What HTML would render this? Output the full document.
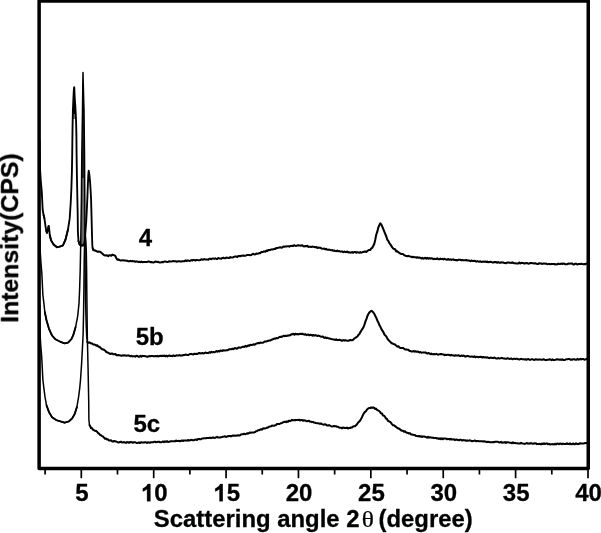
<!DOCTYPE html>
<html><head><meta charset="utf-8"><title>XRD</title>
<style>
html,body{margin:0;padding:0;background:#fff;}
svg{display:block}
text{font-family:"Liberation Sans",sans-serif;font-weight:bold;font-size:24px;fill:#000;stroke:#000;stroke-width:0.3px;stroke-linejoin:round}
</style></head>
<body>
<svg width="601" height="533" viewBox="0 0 601 533">
<rect x="0" y="0" width="601" height="533" fill="#fff"/>
<!-- frame -->
<rect x="39.12" y="0.95" width="549.13" height="467.65" fill="none" stroke="#000" stroke-width="3.5" stroke-linejoin="round"/>
<line x1="45.11" y1="469.5" x2="45.11" y2="474.5" stroke="#000" stroke-width="1.7"/>
<line x1="81.30" y1="469.5" x2="81.30" y2="478.2" stroke="#000" stroke-width="1.7"/>
<line x1="117.49" y1="469.5" x2="117.49" y2="474.5" stroke="#000" stroke-width="1.7"/>
<line x1="153.69" y1="469.5" x2="153.69" y2="478.2" stroke="#000" stroke-width="1.7"/>
<line x1="189.88" y1="469.5" x2="189.88" y2="474.5" stroke="#000" stroke-width="1.7"/>
<line x1="226.07" y1="469.5" x2="226.07" y2="478.2" stroke="#000" stroke-width="1.7"/>
<line x1="262.26" y1="469.5" x2="262.26" y2="474.5" stroke="#000" stroke-width="1.7"/>
<line x1="298.46" y1="469.5" x2="298.46" y2="478.2" stroke="#000" stroke-width="1.7"/>
<line x1="334.65" y1="469.5" x2="334.65" y2="474.5" stroke="#000" stroke-width="1.7"/>
<line x1="370.84" y1="469.5" x2="370.84" y2="478.2" stroke="#000" stroke-width="1.7"/>
<line x1="407.04" y1="469.5" x2="407.04" y2="474.5" stroke="#000" stroke-width="1.7"/>
<line x1="443.23" y1="469.5" x2="443.23" y2="478.2" stroke="#000" stroke-width="1.7"/>
<line x1="479.42" y1="469.5" x2="479.42" y2="474.5" stroke="#000" stroke-width="1.7"/>
<line x1="515.61" y1="469.5" x2="515.61" y2="478.2" stroke="#000" stroke-width="1.7"/>
<line x1="551.81" y1="469.5" x2="551.81" y2="474.5" stroke="#000" stroke-width="1.7"/>
<line x1="588.00" y1="469.5" x2="588.00" y2="478.2" stroke="#000" stroke-width="1.7"/>

<g opacity="0.999">
<text x="81.9" y="501.3" text-anchor="middle">5</text>
<path d="M806 0L525 0L525 1059Q371 915 162 846L162 1101Q272 1137 401 1237.5Q530 1338 578 1472L806 1472Z" transform="translate(140.94,501.3) scale(0.011719,-0.011719)" fill="#000" stroke="#000" stroke-width="25.6" stroke-linejoin="round"/>
<text x="154.29" y="501.3">0</text>
<path d="M806 0L525 0L525 1059Q371 915 162 846L162 1101Q272 1137 401 1237.5Q530 1338 578 1472L806 1472Z" transform="translate(213.32,501.3) scale(0.011719,-0.011719)" fill="#000" stroke="#000" stroke-width="25.6" stroke-linejoin="round"/>
<text x="226.67" y="501.3">5</text>
<text x="299.1" y="501.3" text-anchor="middle">20</text>
<text x="371.4" y="501.3" text-anchor="middle">25</text>
<text x="443.8" y="501.3" text-anchor="middle">30</text>
<text x="516.2" y="501.3" text-anchor="middle">35</text>
<text x="588.6" y="501.3" text-anchor="middle">40</text>

<text x="138.7" y="246.4">4</text>
<text x="135.7" y="345.2">5b</text>
<text x="133.4" y="432.2">5c</text>
<text transform="translate(153.8,527.2) scale(1,0.97)" style="font-size:23.9px">Scattering angle 2</text>
<text transform="translate(361.8,527.3) scale(1.15,1)" style="font-family:'Liberation Serif',serif;font-size:22.1px;font-weight:normal;stroke-width:0.25px">θ</text>
<text transform="translate(378.5,527.2) scale(1,0.97)" style="font-size:23.9px">(degree)</text>
<text transform="translate(18.1,322.8) rotate(-90)" style="font-size:24.8px">Intensity(CPS)</text>
</g>
<polygon points="82.6,105 81.9,155 81.7,178 84.7,178 84.5,155 84.0,105" fill="#222"/>
<polygon points="81.7,178 81.5,200 81.0,246 84.9,246 84.8,200 84.7,178" fill="#6a6a6a"/>
<polygon points="74.15,87.5 73.4,98.8 72.9,110 72.8,114 75.75,114 75.3,106 74.85,99" fill="#000"/>
<polygon points="72.8,114 72.7,119 76.0,119 75.75,114" fill="#777"/>
<polyline points="39.6,140.0 39.8,155.0 40.1,170.0 40.8,181.0 41.8,192.0 42.7,210.0 43.6,215.0 44.4,218.4 45.6,226.9 46.3,231.0 46.9,232.8 47.6,231.0 48.3,227.0 48.7,226.0 49.2,229.0 49.8,235.3 51.1,240.4 53.6,244.6 57.0,247.2 59.6,246.7 62.9,245.5 65.5,239.6 68.0,229.4 69.7,218.4 70.7,203.0 71.4,188.0 71.9,172.0 72.2,155.0 72.5,130.0 72.9,110.0 73.4,98.8 73.7,92.5 74.0,88.0 74.2,87.1 74.3,88.0 74.5,93.0 74.8,99.0 75.3,106.0 75.7,113.0 76.1,122.0 76.4,135.0 76.6,155.0 76.9,175.0 77.4,200.0 77.7,215.0 77.9,232.0 78.5,241.0 79.6,244.6 82.0,245.6 83.8,245.0 84.6,243.0 85.2,235.0 86.2,222.0 86.9,208.0 87.4,197.0 87.9,184.0 88.3,175.0 88.7,170.6 89.3,174.0 90.0,181.0 90.6,190.0 91.1,200.0 91.5,215.0 92.0,235.0 92.3,245.0 92.6,248.0 93.3,249.8" fill="none" stroke="#000" stroke-width="1.85" stroke-linejoin="round" stroke-linecap="round"/>
<polyline points="43.6,215.0 44.4,218.4" fill="none" stroke="#000" stroke-width="1.85" stroke-linejoin="round" stroke-linecap="round"/>
<polyline points="46.3,231.0 46.9,232.8 47.6,231.0" fill="none" stroke="#000" stroke-width="1.85" stroke-linejoin="round" stroke-linecap="round"/>
<polyline points="48.3,227.0 48.7,226.0" fill="none" stroke="#000" stroke-width="1.85" stroke-linejoin="round" stroke-linecap="round"/>
<polyline points="49.8,235.3 51.1,240.4 53.6,244.6 57.0,247.2 59.6,246.7 62.9,245.5 65.5,239.6 68.0,229.4" fill="none" stroke="#000" stroke-width="1.85" stroke-linejoin="round" stroke-linecap="round"/>
<polyline points="78.5,241.0 79.6,244.6 82.0,245.6 83.8,245.0 84.6,243.0" fill="none" stroke="#000" stroke-width="1.85" stroke-linejoin="round" stroke-linecap="round"/>
<polyline points="92.6,248.0 93.3,249.8" fill="none" stroke="#000" stroke-width="1.85" stroke-linejoin="round" stroke-linecap="round"/>
<polyline points="93.3,249.5 94.3,250.5 95.3,250.5 96.3,251.1 97.3,251.7 98.3,251.5 99.3,251.8 100.3,251.8 101.3,252.7 102.3,253.5 103.3,254.4 104.3,255.3 105.3,255.4 106.3,255.2 107.3,255.5 108.3,256.1 109.3,255.3 110.3,255.3 111.3,255.7 112.3,254.6 113.3,255.0 114.3,255.3 115.3,255.9 116.3,258.2 117.3,259.7 118.3,259.4 119.3,260.0 120.3,260.4 121.3,260.4 122.3,260.3 123.3,260.2 124.3,260.6 125.3,260.5 126.3,260.7 127.3,260.7 128.3,261.3 129.3,261.3 130.3,260.9 131.3,261.3 132.3,261.1 133.3,261.3 134.3,261.3 135.3,261.7 136.3,261.4 137.3,261.6 138.3,261.9 139.3,261.7 140.3,262.2 141.3,261.6 142.3,262.2 143.3,261.9 144.3,261.9 145.3,262.1 146.3,262.0 147.3,261.9 148.3,261.5 149.3,261.6 150.3,262.2 151.3,262.0 152.3,262.2 153.3,262.5 154.3,262.2 155.3,261.6 156.3,261.8 157.3,262.1 158.3,261.7 159.3,262.5 160.3,262.4 161.3,262.3 162.3,261.9 163.3,262.2 164.3,261.5 165.3,261.6 166.3,261.7 167.3,261.9 168.3,261.7 169.3,261.3 170.3,261.4 171.3,261.4 172.3,261.3 173.3,261.1 174.3,261.3 175.3,261.3 176.3,261.6 177.3,261.6 178.3,261.3 179.3,261.2 180.3,261.5 181.3,261.5 182.3,261.2 183.3,261.3 184.3,261.3 185.3,260.4 186.3,261.1 187.3,260.5 188.3,260.6 189.3,260.9 190.3,260.7 191.3,260.1 192.3,260.5 193.3,259.9 194.3,260.1 195.3,260.5 196.3,260.0 197.3,260.1 198.3,260.2 199.3,260.2 200.3,260.1 201.3,259.3 202.3,259.6 203.3,259.6 204.3,259.1 205.3,259.5 206.3,259.5 207.3,259.6 208.3,259.7 209.3,258.8 210.3,258.8 211.3,259.2 212.3,258.5 213.3,258.6 214.3,258.8 215.3,258.3 216.3,258.9 217.3,258.9 218.3,258.0 219.3,258.4 220.3,258.6 221.3,258.7 222.3,257.9 223.3,257.7 224.3,258.3 225.3,258.3 226.3,257.5 227.3,257.7 228.3,257.9 229.3,257.9 230.3,257.1 231.3,257.5 232.3,257.5 233.3,257.2 234.3,256.7 235.3,256.4 236.3,256.6 237.3,257.0 238.3,256.1 239.3,255.9 240.3,256.2 241.3,255.8 242.3,255.7 243.3,255.5 244.3,255.8 245.3,255.8 246.3,255.4 247.3,254.9 248.3,254.9 249.3,255.0 250.3,255.2 251.3,255.1 252.3,254.2 253.3,253.8 254.3,254.4 255.3,254.3 256.3,253.6 257.3,253.7 258.3,253.6 259.3,253.1 260.3,253.1 261.3,252.0 262.3,252.0 263.3,251.7 264.3,251.3 265.3,251.8 266.3,250.6 267.3,250.9 268.3,250.1 269.3,250.1 270.3,249.9 271.3,249.4 272.3,249.5 273.3,249.3 274.3,248.8 275.3,248.9 276.3,248.1 277.3,247.9 278.3,247.8 279.3,247.6 280.3,247.2 281.3,247.7 282.3,247.5 283.3,246.6 284.3,246.8 285.3,246.5 286.3,246.5 287.3,246.2 288.3,246.3 289.3,246.6 290.3,245.9 291.3,246.0 292.3,245.8 293.3,245.9 294.3,245.2 295.3,245.8 296.3,245.9 297.3,245.5 298.3,245.2 299.3,245.5 300.3,245.6 301.3,245.6 302.3,245.3 303.3,246.2 304.3,246.4 305.3,246.0 306.3,246.2 307.3,245.8 308.3,246.9 309.3,246.8 310.3,246.8 311.3,247.0 312.3,246.6 313.3,246.8 314.3,246.9 315.3,247.3 316.3,247.0 317.3,247.9 318.3,247.6 319.3,247.8 320.3,247.7 321.3,248.4 322.3,248.8 323.3,248.8 324.3,248.6 325.3,249.3 326.3,248.9 327.3,249.8 328.3,249.7 329.3,249.6 330.3,250.0 331.3,250.3 332.3,250.1 333.3,250.8 334.3,250.5 335.3,251.1 336.3,251.2 337.3,250.6 338.3,251.3 339.3,251.1 340.3,251.6 341.3,251.5 342.3,251.6 343.3,252.2 344.3,251.5 345.3,252.1 346.3,251.9 347.3,251.6 348.3,252.4 349.3,252.2 350.3,252.6 351.3,252.4 352.3,252.1 353.3,252.8 354.3,252.0 355.3,252.0 356.3,252.7 357.3,252.3 358.3,252.3 359.3,252.8 360.3,252.1 361.3,252.6 362.3,252.3 363.3,251.9 364.3,251.6 365.3,251.6 366.3,251.9 367.3,251.0 368.3,250.3 369.3,250.0 370.3,250.0 371.3,248.3 372.3,247.8 373.3,245.8 374.3,243.8 375.3,239.4 376.3,234.5 377.3,231.7 378.3,227.6 379.3,225.2 380.3,223.3 381.3,224.5 382.3,226.6 383.3,229.1 384.3,231.6 385.3,234.0 386.3,236.5 387.3,239.8 388.3,240.9 389.3,243.0 390.3,244.3 391.3,245.9 392.3,247.4 393.3,248.6 394.3,249.0 395.3,249.5 396.3,251.4 397.3,251.3 398.3,252.2 399.3,252.8 400.3,253.6 401.3,253.9 402.3,254.1 403.3,254.3 404.3,255.2 405.3,255.6 406.3,256.1 407.3,256.3 408.3,255.9 409.3,256.3 410.3,256.6 411.3,256.8 412.3,257.2 413.3,256.8 414.3,257.3 415.3,257.2 416.3,257.7 417.3,257.3 418.3,257.7 419.3,257.5 420.3,257.7 421.3,258.5 422.3,257.9 423.3,258.6 424.3,258.2 425.3,257.8 426.3,258.6 427.3,257.9 428.3,258.7 429.3,258.0 430.3,258.7 431.3,258.2 432.3,258.4 433.3,259.1 434.3,258.7 435.3,258.9 436.3,259.0 437.3,258.4 438.3,259.2 439.3,259.3 440.3,258.6 441.3,259.1 442.3,258.9 443.3,259.4 444.3,258.7 445.3,259.2 446.3,259.6 447.3,259.6 448.3,259.0 449.3,259.8 450.3,259.3 451.3,259.9 452.3,259.6 453.3,259.4 454.3,260.0 455.3,260.1 456.3,260.1 457.3,260.4 458.3,259.8 459.3,259.8 460.3,259.8 461.3,260.2 462.3,260.1 463.3,260.2 464.3,260.3 465.3,260.2 466.3,260.0 467.3,260.5 468.3,260.4 469.3,260.6 470.3,261.2 471.3,260.5 472.3,261.0 473.3,261.1 474.3,260.8 475.3,261.1 476.3,261.7 477.3,261.1 478.3,261.5 479.3,261.7 480.3,261.3 481.3,262.0 482.3,261.7 483.3,261.6 484.3,261.8 485.3,261.6 486.3,261.9 487.3,261.6 488.3,262.3 489.3,261.9 490.3,261.7 491.3,261.9 492.3,262.4 493.3,262.4 494.3,262.1 495.3,262.1 496.3,262.1 497.3,262.8 498.3,262.0 499.3,262.8 500.3,262.8 501.3,262.2 502.3,262.4 503.3,262.6 504.3,262.9 505.3,263.1 506.3,263.1 507.3,262.5 508.3,262.4 509.3,262.7 510.3,262.8 511.3,262.9 512.3,262.4 513.3,263.0 514.3,263.3 515.3,263.3 516.3,263.4 517.3,263.4 518.3,263.4 519.3,262.6 520.3,263.5 521.3,262.8 522.3,262.9 523.3,263.1 524.3,263.6 525.3,263.3 526.3,263.1 527.3,263.1 528.3,263.7 529.3,263.6 530.3,263.0 531.3,263.1 532.3,263.3 533.3,263.2 534.3,263.5 535.3,263.2 536.3,263.6 537.3,264.0 538.3,263.9 539.3,263.2 540.3,263.4 541.3,263.6 542.3,263.9 543.3,263.6 544.3,263.5 545.3,263.7 546.3,263.6 547.3,264.2 548.3,264.1 549.3,263.9 550.3,264.2 551.3,264.0 552.3,264.0 553.3,263.9 554.3,264.0 555.3,264.5 556.3,264.3 557.3,264.3 558.3,263.6 559.3,264.0 560.3,263.9 561.3,263.6 562.3,263.9 563.3,263.6 564.3,263.7 565.3,264.3 566.3,264.2 567.3,264.2 568.3,263.6 569.3,263.7 570.3,263.5 571.3,263.6 572.3,263.6 573.3,264.5 574.3,264.4 575.3,263.7 576.3,263.8 577.3,264.5 578.3,264.1 579.3,263.9 580.3,264.0 581.3,263.8 582.3,264.1 583.3,264.2 584.3,264.0 585.3,264.3 586.3,263.6" fill="none" stroke="#000" stroke-width="2.05" stroke-linejoin="round" stroke-linecap="round"/>
<polyline points="39.6,220.0 39.8,235.0 40.1,250.0 40.9,262.0 41.8,273.0 42.9,295.0 43.9,303.4 44.8,311.9 46.5,320.3 49.0,328.8 52.0,335.5 55.3,339.2 60.4,341.8 64.6,343.4 68.0,342.6 71.4,339.2 73.3,335.0 75.6,327.1 77.7,316.1 79.0,303.4 79.6,290.0 80.2,270.0 80.7,245.0 81.1,220.0 81.4,200.0 81.8,155.0 82.5,110.0 82.8,85.0 83.0,72.6 83.3,85.0 84.0,110.0 84.5,155.0 84.8,200.0 84.9,230.0 85.0,245.0 85.3,290.0 86.2,325.0 86.7,337.0 87.4,342.0" fill="none" stroke="#000" stroke-width="1.5" stroke-linejoin="round" stroke-linecap="round"/>
<polyline points="44.8,311.9 46.5,320.3 49.0,328.8 52.0,335.5 55.3,339.2 60.4,341.8 64.6,343.4 68.0,342.6 71.4,339.2 73.3,335.0 75.6,327.1" fill="none" stroke="#000" stroke-width="1.85" stroke-linejoin="round" stroke-linecap="round"/>
<polyline points="87.4,342.2 88.4,342.8 89.4,342.3 90.4,343.0 91.4,343.5 92.4,343.6 93.4,344.6 94.4,344.5 95.4,344.9 96.4,345.7 97.4,345.3 98.4,346.8 99.4,346.8 100.4,347.8 101.4,348.6 102.4,349.3 103.4,349.4 104.4,350.2 105.4,350.8 106.4,352.0 107.4,352.5 108.4,352.7 109.4,353.6 110.4,353.9 111.4,353.6 112.4,353.6 113.4,354.3 114.4,354.2 115.4,354.0 116.4,355.2 117.4,355.3 118.4,355.0 119.4,355.2 120.4,355.4 121.4,355.8 122.4,355.4 123.4,355.6 124.4,355.3 125.4,355.4 126.4,355.7 127.4,355.5 128.4,355.4 129.4,355.8 130.4,356.2 131.4,355.8 132.4,356.4 133.4,356.3 134.4,356.3 135.4,356.6 136.4,355.8 137.4,355.9 138.4,356.7 139.4,356.7 140.4,355.9 141.4,356.6 142.4,355.9 143.4,356.0 144.4,356.0 145.4,356.2 146.4,356.4 147.4,356.9 148.4,356.4 149.4,356.1 150.4,356.2 151.4,355.9 152.4,355.9 153.4,356.3 154.4,356.3 155.4,356.1 156.4,356.2 157.4,355.9 158.4,356.4 159.4,356.1 160.4,355.8 161.4,356.1 162.4,355.8 163.4,355.9 164.4,355.6 165.4,356.3 166.4,355.7 167.4,356.4 168.4,355.8 169.4,355.5 170.4,356.0 171.4,356.0 172.4,356.1 173.4,355.3 174.4,355.9 175.4,355.9 176.4,355.3 177.4,355.4 178.4,355.5 179.4,355.1 180.4,355.6 181.4,355.4 182.4,355.5 183.4,355.0 184.4,355.0 185.4,354.6 186.4,354.7 187.4,355.0 188.4,355.1 189.4,354.2 190.4,354.0 191.4,353.9 192.4,354.2 193.4,354.4 194.4,353.7 195.4,353.9 196.4,353.8 197.4,354.0 198.4,353.3 199.4,353.0 200.4,353.4 201.4,353.2 202.4,353.0 203.4,353.4 204.4,353.2 205.4,352.5 206.4,352.9 207.4,353.0 208.4,353.1 209.4,352.1 210.4,352.7 211.4,351.8 212.4,352.3 213.4,352.1 214.4,352.3 215.4,351.9 216.4,351.1 217.4,351.6 218.4,351.0 219.4,351.5 220.4,350.5 221.4,350.7 222.4,350.9 223.4,350.2 224.4,350.5 225.4,350.4 226.4,350.3 227.4,350.3 228.4,349.7 229.4,349.3 230.4,349.2 231.4,349.2 232.4,348.7 233.4,349.1 234.4,348.3 235.4,348.0 236.4,348.7 237.4,348.4 238.4,347.6 239.4,347.5 240.4,347.8 241.4,347.3 242.4,346.8 243.4,346.7 244.4,346.9 245.4,345.9 246.4,346.6 247.4,346.0 248.4,345.4 249.4,345.8 250.4,344.8 251.4,344.9 252.4,344.9 253.4,344.3 254.4,344.7 255.4,344.3 256.4,343.5 257.4,343.3 258.4,342.9 259.4,343.2 260.4,342.6 261.4,342.7 262.4,342.7 263.4,342.6 264.4,341.6 265.4,341.5 266.4,341.4 267.4,341.1 268.4,340.8 269.4,340.5 270.4,340.5 271.4,339.7 272.4,339.4 273.4,339.1 274.4,338.5 275.4,338.7 276.4,338.1 277.4,338.3 278.4,337.9 279.4,336.9 280.4,336.7 281.4,337.0 282.4,336.5 283.4,335.8 284.4,336.2 285.4,335.7 286.4,335.9 287.4,335.6 288.4,335.6 289.4,335.2 290.4,335.2 291.4,334.3 292.4,334.2 293.4,333.8 294.4,334.6 295.4,333.8 296.4,334.2 297.4,334.1 298.4,334.4 299.4,334.0 300.4,333.8 301.4,334.1 302.4,333.8 303.4,334.2 304.4,334.6 305.4,334.1 306.4,335.1 307.4,334.8 308.4,334.6 309.4,335.3 310.4,334.7 311.4,334.9 312.4,335.6 313.4,335.0 314.4,335.6 315.4,335.1 316.4,335.6 317.4,335.9 318.4,335.6 319.4,336.0 320.4,336.4 321.4,336.7 322.4,336.5 323.4,337.0 324.4,337.9 325.4,337.4 326.4,338.1 327.4,337.8 328.4,338.3 329.4,338.6 330.4,338.8 331.4,339.1 332.4,339.3 333.4,339.4 334.4,339.6 335.4,339.9 336.4,339.4 337.4,340.1 338.4,339.9 339.4,339.8 340.4,339.9 341.4,340.6 342.4,340.6 343.4,340.1 344.4,340.6 345.4,340.1 346.4,340.5 347.4,340.7 348.4,340.8 349.4,340.2 350.4,339.9 351.4,340.2 352.4,340.2 353.4,339.6 354.4,338.4 355.4,337.9 356.4,337.2 357.4,336.5 358.4,334.9 359.4,334.0 360.4,332.1 361.4,330.5 362.4,328.9 363.4,327.4 364.4,324.9 365.4,321.5 366.4,319.1 367.4,316.0 368.4,314.0 369.4,312.4 370.4,311.5 371.4,310.7 372.4,311.6 373.4,312.5 374.4,314.0 375.4,316.2 376.4,318.1 377.4,320.7 378.4,322.6 379.4,325.1 380.4,326.7 381.4,329.1 382.4,330.6 383.4,332.1 384.4,334.5 385.4,335.4 386.4,336.6 387.4,338.6 388.4,340.0 389.4,340.9 390.4,342.1 391.4,343.0 392.4,343.5 393.4,343.9 394.4,344.2 395.4,344.9 396.4,345.8 397.4,346.6 398.4,346.2 399.4,347.5 400.4,347.9 401.4,348.1 402.4,347.9 403.4,348.1 404.4,349.1 405.4,349.4 406.4,349.4 407.4,349.7 408.4,349.7 409.4,351.0 410.4,351.1 411.4,351.4 412.4,351.4 413.4,351.1 414.4,351.7 415.4,351.2 416.4,351.8 417.4,351.5 418.4,351.8 419.4,352.4 420.4,352.1 421.4,352.7 422.4,352.6 423.4,352.4 424.4,352.5 425.4,352.4 426.4,353.1 427.4,353.5 428.4,353.0 429.4,353.4 430.4,354.1 431.4,353.6 432.4,354.3 433.4,354.3 434.4,354.1 435.4,354.3 436.4,353.8 437.4,354.4 438.4,354.7 439.4,354.2 440.4,354.1 441.4,354.1 442.4,354.3 443.4,354.4 444.4,355.1 445.4,354.8 446.4,354.9 447.4,354.8 448.4,354.8 449.4,355.1 450.4,355.4 451.4,354.9 452.4,355.2 453.4,355.4 454.4,355.8 455.4,355.2 456.4,355.4 457.4,355.6 458.4,355.2 459.4,355.8 460.4,356.2 461.4,355.6 462.4,355.9 463.4,355.6 464.4,356.0 465.4,356.6 466.4,356.2 467.4,355.9 468.4,356.1 469.4,356.5 470.4,356.8 471.4,356.5 472.4,356.6 473.4,357.0 474.4,356.3 475.4,357.3 476.4,356.8 477.4,356.8 478.4,357.3 479.4,356.9 480.4,356.8 481.4,357.0 482.4,357.5 483.4,357.0 484.4,357.4 485.4,357.3 486.4,357.6 487.4,357.3 488.4,357.9 489.4,358.1 490.4,357.6 491.4,357.7 492.4,358.0 493.4,358.1 494.4,357.5 495.4,358.2 496.4,358.4 497.4,358.4 498.4,358.1 499.4,358.5 500.4,358.3 501.4,358.0 502.4,358.1 503.4,358.5 504.4,358.5 505.4,358.8 506.4,358.7 507.4,358.3 508.4,358.5 509.4,358.9 510.4,358.7 511.4,358.5 512.4,359.3 513.4,358.8 514.4,358.7 515.4,359.0 516.4,358.8 517.4,358.8 518.4,359.3 519.4,359.5 520.4,359.1 521.4,358.9 522.4,359.3 523.4,359.3 524.4,359.4 525.4,359.2 526.4,359.8 527.4,359.2 528.4,359.1 529.4,359.7 530.4,359.8 531.4,359.3 532.4,359.2 533.4,359.6 534.4,360.0 535.4,359.3 536.4,359.6 537.4,359.4 538.4,359.8 539.4,359.6 540.4,359.5 541.4,359.8 542.4,359.7 543.4,359.3 544.4,359.6 545.4,360.1 546.4,360.0 547.4,359.7 548.4,359.8 549.4,359.3 550.4,359.6 551.4,360.1 552.4,359.4 553.4,360.1 554.4,360.0 555.4,359.8 556.4,359.5 557.4,359.2 558.4,359.4 559.4,359.8 560.4,359.5 561.4,359.9 562.4,359.3 563.4,359.9 564.4,359.9 565.4,359.7 566.4,359.2 567.4,359.2 568.4,359.0 569.4,359.0 570.4,359.7 571.4,359.4 572.4,359.7 573.4,359.2 574.4,359.2 575.4,359.8 576.4,359.8 577.4,358.9 578.4,359.6 579.4,359.4 580.4,358.8 581.4,359.4 582.4,359.0 583.4,359.1 584.4,359.7 585.4,359.5 586.4,358.8" fill="none" stroke="#000" stroke-width="2.05" stroke-linejoin="round" stroke-linecap="round"/>
<polyline points="39.6,305.0 39.8,320.0 40.1,335.0 40.8,346.0 41.7,357.0 42.9,380.0 43.9,388.4 45.0,396.9 46.5,405.3 49.0,412.1 52.0,417.2 56.2,420.1 60.4,421.4 64.6,422.7 68.9,421.4 72.2,418.4 74.8,413.8 76.9,407.0 78.6,396.9 79.7,388.4 80.5,380.0 81.6,363.5 82.6,345.0 83.1,335.0 83.6,312.0 83.9,290.0 84.2,262.0 84.5,246.0 84.9,238.0 85.2,234.5 85.6,238.0 86.0,244.0 86.3,252.0 86.6,270.0 86.8,290.0 87.3,335.0 88.1,370.0 88.3,380.0 88.7,400.0 88.9,420.0 89.5,425.0 91.0,427.8" fill="none" stroke="#000" stroke-width="1.5" stroke-linejoin="round" stroke-linecap="round"/>
<polyline points="46.5,405.3 49.0,412.1 52.0,417.2 56.2,420.1 60.4,421.4 64.6,422.7 68.9,421.4 72.2,418.4 74.8,413.8 76.9,407.0" fill="none" stroke="#000" stroke-width="1.85" stroke-linejoin="round" stroke-linecap="round"/>
<polyline points="89.5,425.0 91.0,427.8" fill="none" stroke="#000" stroke-width="1.85" stroke-linejoin="round" stroke-linecap="round"/>
<polyline points="91.0,428.1 92.0,428.1 93.0,429.7 94.0,430.1 95.0,430.8 96.0,430.9 97.0,431.7 98.0,433.0 99.0,433.6 100.0,434.9 101.0,435.2 102.0,436.1 103.0,436.5 104.0,437.6 105.0,438.7 106.0,438.5 107.0,439.5 108.0,439.3 109.0,440.5 110.0,440.5 111.0,440.3 112.0,441.2 113.0,441.6 114.0,441.0 115.0,441.2 116.0,441.5 117.0,441.9 118.0,442.4 119.0,442.4 120.0,441.9 121.0,441.7 122.0,442.4 123.0,442.4 124.0,442.1 125.0,442.5 126.0,442.9 127.0,442.1 128.0,442.2 129.0,442.8 130.0,442.1 131.0,442.1 132.0,442.2 133.0,442.8 134.0,442.2 135.0,442.2 136.0,442.7 137.0,442.9 138.0,442.8 139.0,442.5 140.0,443.0 141.0,442.2 142.0,442.5 143.0,442.4 144.0,442.6 145.0,442.2 146.0,442.2 147.0,443.0 148.0,442.3 149.0,442.4 150.0,442.8 151.0,442.2 152.0,442.2 153.0,442.3 154.0,441.8 155.0,441.7 156.0,442.3 157.0,442.0 158.0,441.7 159.0,441.8 160.0,442.2 161.0,442.2 162.0,441.9 163.0,441.5 164.0,442.1 165.0,441.4 166.0,441.9 167.0,441.2 168.0,441.9 169.0,441.7 170.0,441.4 171.0,441.2 172.0,441.3 173.0,441.3 174.0,441.2 175.0,441.3 176.0,440.6 177.0,440.9 178.0,441.1 179.0,440.8 180.0,441.3 181.0,440.8 182.0,440.5 183.0,441.0 184.0,440.5 185.0,440.5 186.0,440.6 187.0,440.7 188.0,440.0 189.0,440.6 190.0,440.2 191.0,439.9 192.0,439.8 193.0,440.3 194.0,440.2 195.0,439.7 196.0,439.5 197.0,440.0 198.0,439.0 199.0,438.9 200.0,439.2 201.0,439.2 202.0,438.5 203.0,438.5 204.0,438.3 205.0,438.3 206.0,438.2 207.0,438.0 208.0,437.9 209.0,438.0 210.0,437.6 211.0,438.2 212.0,437.7 213.0,437.4 214.0,437.8 215.0,437.9 216.0,437.4 217.0,436.9 218.0,437.5 219.0,437.5 220.0,437.6 221.0,437.3 222.0,437.1 223.0,436.8 224.0,436.6 225.0,436.3 226.0,437.0 227.0,436.6 228.0,436.3 229.0,436.0 230.0,436.1 231.0,436.4 232.0,435.8 233.0,435.5 234.0,435.8 235.0,435.6 236.0,435.8 237.0,435.5 238.0,435.3 239.0,435.6 240.0,435.3 241.0,434.4 242.0,434.3 243.0,434.3 244.0,433.7 245.0,434.2 246.0,434.0 247.0,433.3 248.0,433.7 249.0,433.1 250.0,432.5 251.0,432.7 252.0,432.5 253.0,432.4 254.0,432.4 255.0,432.1 256.0,431.3 257.0,431.0 258.0,430.2 259.0,430.3 260.0,429.7 261.0,429.3 262.0,429.7 263.0,428.5 264.0,428.3 265.0,428.5 266.0,428.1 267.0,427.6 268.0,427.6 269.0,426.7 270.0,426.4 271.0,426.3 272.0,425.6 273.0,425.8 274.0,425.8 275.0,425.3 276.0,425.0 277.0,423.9 278.0,423.9 279.0,424.0 280.0,423.7 281.0,423.2 282.0,423.0 283.0,422.3 284.0,422.1 285.0,421.6 286.0,422.2 287.0,421.4 288.0,421.8 289.0,420.6 290.0,421.1 291.0,420.6 292.0,419.9 293.0,420.3 294.0,420.3 295.0,420.1 296.0,420.1 297.0,420.0 298.0,420.0 299.0,419.7 300.0,420.4 301.0,420.1 302.0,419.9 303.0,420.8 304.0,420.2 305.0,420.5 306.0,420.9 307.0,421.2 308.0,420.9 309.0,420.8 310.0,421.6 311.0,421.8 312.0,422.1 313.0,421.9 314.0,422.6 315.0,422.8 316.0,423.1 317.0,423.2 318.0,423.3 319.0,423.4 320.0,423.9 321.0,423.5 322.0,424.1 323.0,424.5 324.0,424.7 325.0,424.2 326.0,424.6 327.0,425.5 328.0,425.5 329.0,425.1 330.0,425.7 331.0,426.2 332.0,426.4 333.0,426.3 334.0,426.0 335.0,426.3 336.0,426.3 337.0,426.7 338.0,426.7 339.0,427.6 340.0,427.7 341.0,427.7 342.0,428.3 343.0,427.6 344.0,427.7 345.0,428.1 346.0,428.0 347.0,427.6 348.0,428.4 349.0,428.1 350.0,428.0 351.0,427.5 352.0,427.4 353.0,426.5 354.0,426.3 355.0,426.2 356.0,425.3 357.0,424.2 358.0,422.7 359.0,421.7 360.0,420.7 361.0,419.0 362.0,417.2 363.0,414.8 364.0,413.2 365.0,411.8 366.0,411.1 367.0,409.5 368.0,408.7 369.0,408.0 370.0,408.1 371.0,407.5 372.0,407.9 373.0,407.4 374.0,407.7 375.0,408.9 376.0,408.6 377.0,409.8 378.0,410.4 379.0,410.9 380.0,411.9 381.0,413.3 382.0,413.6 383.0,415.5 384.0,415.7 385.0,416.9 386.0,418.5 387.0,419.0 388.0,420.9 389.0,421.3 390.0,421.8 391.0,422.8 392.0,424.1 393.0,425.2 394.0,425.3 395.0,426.1 396.0,426.9 397.0,427.7 398.0,428.4 399.0,428.6 400.0,429.3 401.0,430.3 402.0,430.7 403.0,430.7 404.0,431.7 405.0,431.3 406.0,432.3 407.0,432.8 408.0,432.9 409.0,433.5 410.0,433.2 411.0,434.4 412.0,434.5 413.0,434.8 414.0,435.1 415.0,435.0 416.0,436.0 417.0,436.0 418.0,436.3 419.0,436.0 420.0,436.6 421.0,436.3 422.0,437.0 423.0,436.4 424.0,436.6 425.0,436.8 426.0,437.1 427.0,437.7 428.0,436.9 429.0,437.6 430.0,437.2 431.0,437.6 432.0,437.7 433.0,437.6 434.0,438.1 435.0,438.0 436.0,438.0 437.0,438.5 438.0,438.2 439.0,439.0 440.0,438.3 441.0,439.1 442.0,438.4 443.0,439.2 444.0,438.4 445.0,438.4 446.0,438.6 447.0,439.3 448.0,438.9 449.0,439.0 450.0,439.5 451.0,438.9 452.0,439.5 453.0,439.4 454.0,439.2 455.0,440.1 456.0,439.6 457.0,439.6 458.0,440.1 459.0,440.3 460.0,439.7 461.0,439.7 462.0,440.6 463.0,440.1 464.0,440.3 465.0,440.3 466.0,440.7 467.0,440.4 468.0,440.8 469.0,440.6 470.0,440.3 471.0,440.8 472.0,441.2 473.0,440.9 474.0,440.8 475.0,440.5 476.0,441.3 477.0,441.0 478.0,441.0 479.0,441.2 480.0,441.3 481.0,441.3 482.0,441.3 483.0,441.5 484.0,441.2 485.0,441.4 486.0,441.7 487.0,442.2 488.0,441.7 489.0,441.9 490.0,442.3 491.0,442.2 492.0,442.2 493.0,442.1 494.0,442.2 495.0,441.8 496.0,441.8 497.0,441.7 498.0,441.8 499.0,442.4 500.0,442.4 501.0,441.9 502.0,442.7 503.0,442.4 504.0,442.5 505.0,442.1 506.0,442.9 507.0,442.2 508.0,442.3 509.0,442.6 510.0,442.7 511.0,442.8 512.0,443.2 513.0,442.4 514.0,443.1 515.0,442.9 516.0,443.3 517.0,443.2 518.0,443.4 519.0,443.5 520.0,443.5 521.0,442.9 522.0,443.3 523.0,443.6 524.0,443.7 525.0,443.9 526.0,443.4 527.0,443.0 528.0,443.8 529.0,443.3 530.0,443.7 531.0,443.1 532.0,443.5 533.0,443.8 534.0,443.3 535.0,443.5 536.0,443.3 537.0,444.1 538.0,444.0 539.0,443.9 540.0,443.8 541.0,444.3 542.0,443.6 543.0,444.0 544.0,443.4 545.0,444.0 546.0,443.6 547.0,443.4 548.0,444.3 549.0,443.7 550.0,444.5 551.0,444.2 552.0,444.2 553.0,444.1 554.0,444.5 555.0,443.7 556.0,444.4 557.0,443.7 558.0,443.5 559.0,444.3 560.0,443.5 561.0,443.8 562.0,444.2 563.0,443.6 564.0,444.0 565.0,443.9 566.0,444.0 567.0,443.4 568.0,444.0 569.0,444.1 570.0,443.4 571.0,444.2 572.0,444.2 573.0,443.5 574.0,444.1 575.0,444.1 576.0,443.3 577.0,443.9 578.0,444.1 579.0,443.9 580.0,443.2 581.0,443.5 582.0,443.6 583.0,443.4 584.0,443.4 585.0,443.1 586.0,443.0 587.0,443.3" fill="none" stroke="#000" stroke-width="2.05" stroke-linejoin="round" stroke-linecap="round"/>

</svg>
</body></html>
